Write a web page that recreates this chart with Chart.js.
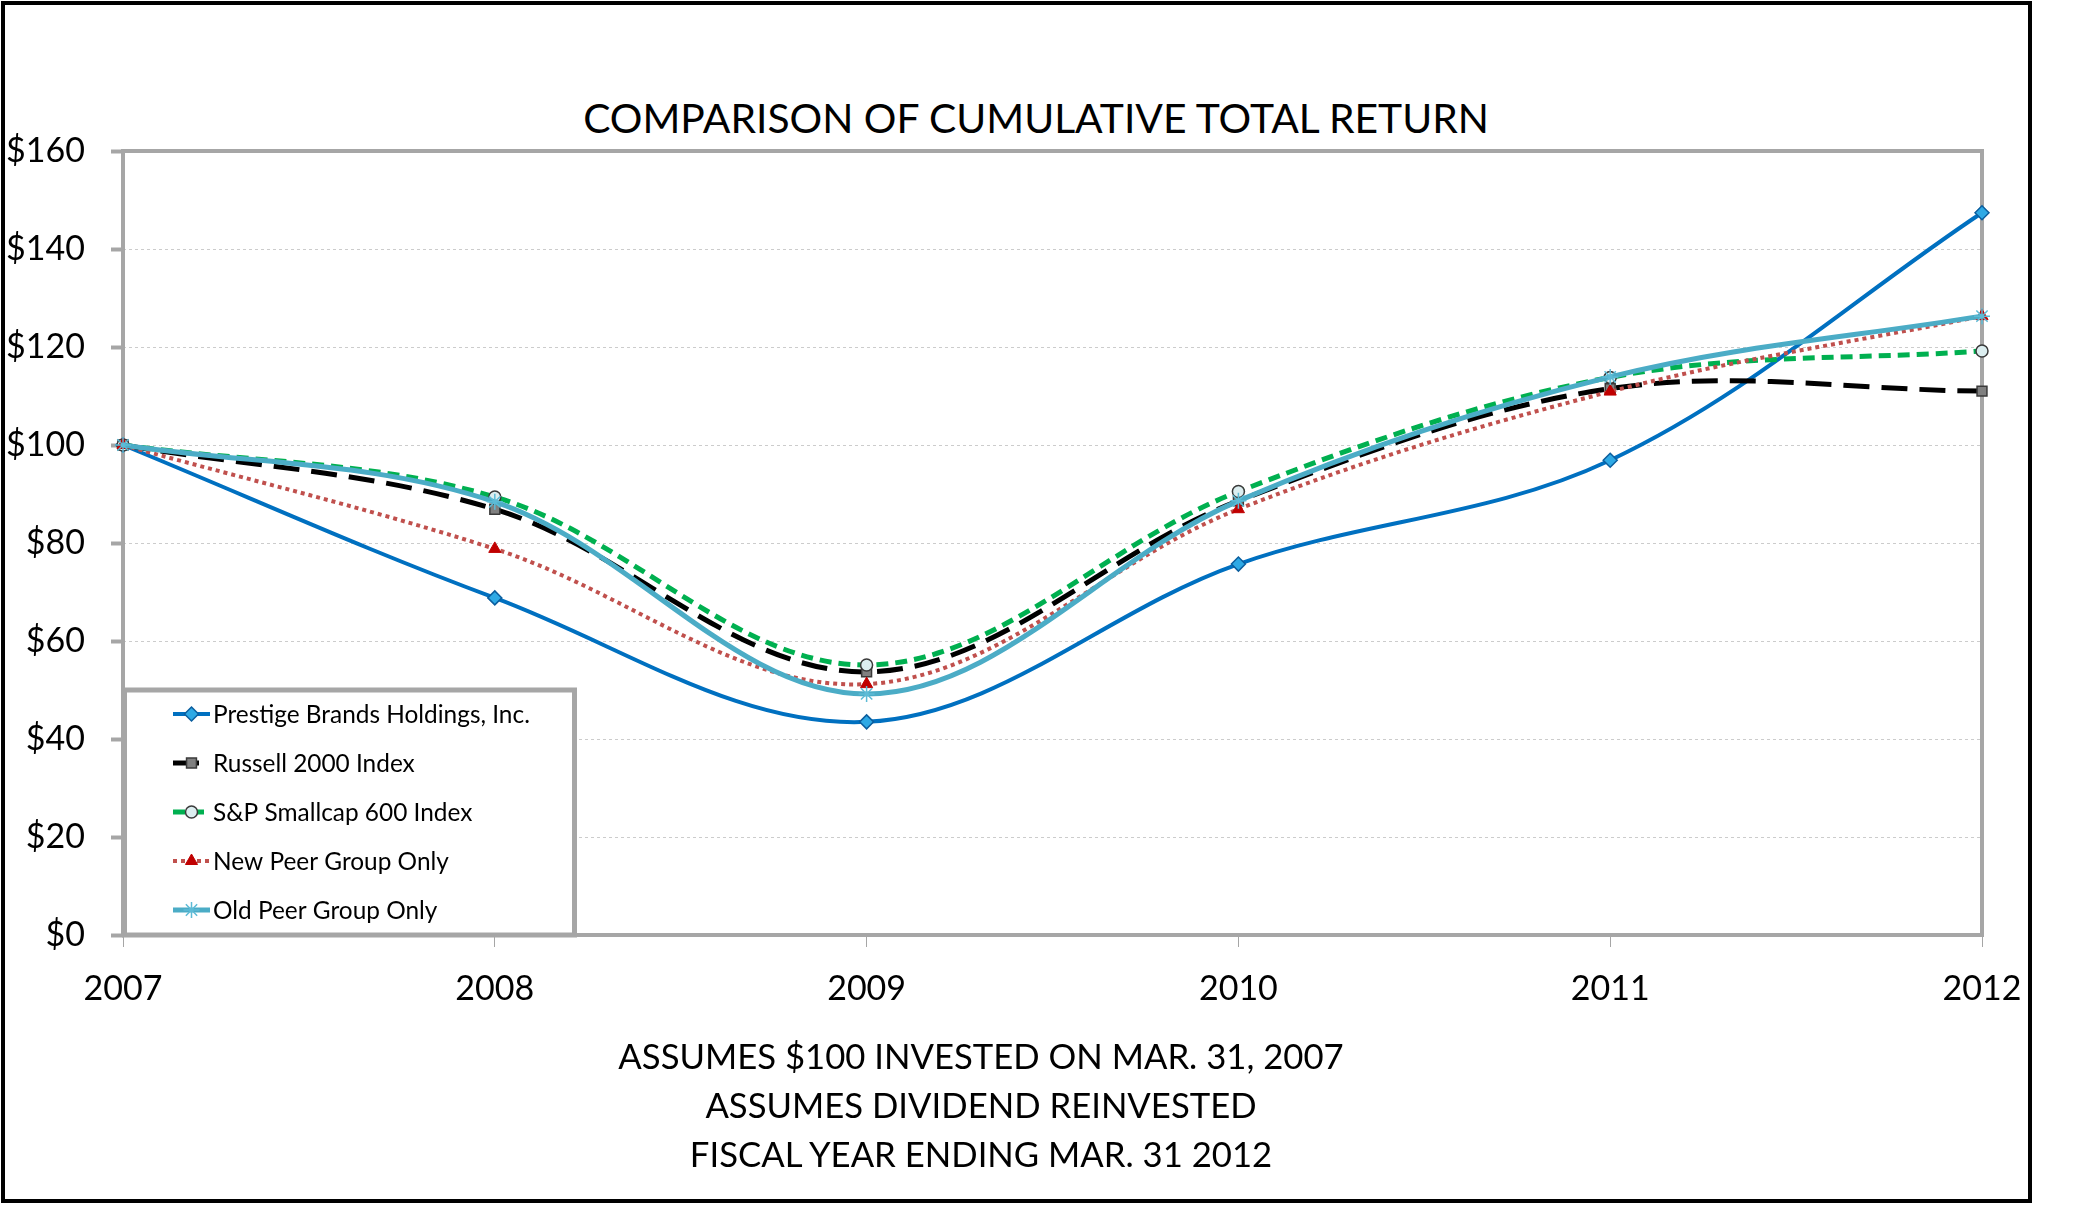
<!DOCTYPE html>
<html>
<head>
<meta charset="utf-8">
<title>Comparison of Cumulative Total Return</title>
<script src="https://cdn.jsdelivr.net/npm/chart.js@4.4.1/dist/chart.umd.min.js"></script>
<style>
    html, body { margin: 0; padding: 0; background: #fff; }
    #page { position: relative; width: 2100px; height: 1205px; overflow: hidden; font-family: Lato, 'Open Sans', sans-serif; color: #000; }
    #frame { position: absolute; left: 1px; top: 1px; width: 2031px; height: 1202px; box-sizing: border-box; border: 4px solid #000; }
    #wrap { position: absolute; left: 0; top: 0; width: 2100px; height: 1205px; }
    #title { position: absolute; left: 0; top: 93px; width: 2072px; text-align: center; font-size: 40.8px; line-height: 50px; }
    #notes { position: absolute; left: 0; top: 1031px; width: 1962px; text-align: center; font-size: 34.7px; line-height: 49px; }
</style>
</head>
<body>
<div id="page">
    <div id="frame"></div>
    <div id="title">COMPARISON OF CUMULATIVE TOTAL RETURN</div>
    <div id="wrap"><canvas id="return-chart"></canvas></div>
    <div id="notes">
        ASSUMES $100 INVESTED ON MAR. 31, 2007<br>
        ASSUMES DIVIDEND REINVESTED<br>
        FISCAL YEAR ENDING MAR. 31 2012
    </div>
</div>
<script>
// values
const years = ['2007', '2008', '2009', '2010', '2011', '2012'];
const seriesNames = [
    'Prestige Brands Holdings, Inc.',
    'Russell 2000 Index',
    'S&P Smallcap 600 Index',
    'New Peer Group Only',
    'Old Peer Group Only'
];
const prestige = [100, 68.8, 43.5, 75.7, 96.9, 147.4];
const russell  = [100, 86.9, 53.7, 88.6, 111.5, 111.0];
const smallcap = [100, 89.4, 55.1, 90.5, 113.8, 119.2];
const newPeer  = [100, 78.8, 51.2, 86.9, 110.9, 126.3];
const oldPeer  = [100, 88.4, 49.2, 88.6, 113.9, 126.3];
const yMin = 0, yMax = 160, yStep = 20;

const AXIS_GRAY = '#A6A6A6';

// grey frame round the plot area (Excel style)
const plotFrame = {
    id: 'plotFrame',
    beforeDatasetsDraw(chart) {
        const { ctx, chartArea: ca } = chart;
        ctx.save();
        ctx.lineWidth = 4;
        ctx.strokeStyle = AXIS_GRAY;
        ctx.strokeRect(ca.left, ca.top, ca.right - ca.left, ca.bottom - ca.top);
        ctx.restore();
    }
};

// legend box sitting inside the plot, bottom left
const boxLegend = {
    id: 'boxLegend',
    afterDatasetsDraw(chart) {
        const { ctx, chartArea: ca } = chart;
        const w = 450, h = 245;
        const left = ca.left + 1.5, top = ca.bottom - h;
        ctx.save();
        ctx.fillStyle = '#fff';
        ctx.fillRect(left, top, w, h);
        ctx.lineWidth = 5;
        ctx.strokeStyle = AXIS_GRAY;
        ctx.strokeRect(left, top, w, h);

        chart.data.datasets.forEach((ds, i) => {
            const y = top + 24 + i * 49;
            const x0 = ca.left + 50, x1 = ca.left + 87, xm = (x0 + x1) / 2;

            ctx.beginPath();
            ctx.setLineDash(ds.borderDash || []);
            ctx.lineWidth = ds.borderWidth;
            ctx.strokeStyle = ds.borderColor;
            ctx.moveTo(x0, y);
            ctx.lineTo(x1, y);
            ctx.stroke();
            ctx.setLineDash([]);

            ctx.fillStyle = ds.pointBackgroundColor;
            ctx.strokeStyle = ds.pointBorderColor;
            ctx.lineWidth = ds.pointBorderWidth;
            if (Chart.helpers && Chart.helpers.drawPoint) {
                Chart.helpers.drawPoint(ctx, {
                    pointStyle: ds.pointStyle,
                    radius: ds.pointRadius,
                    rotation: 0,
                    borderWidth: ds.pointBorderWidth
                }, xm, y);
            }

            ctx.fillStyle = '#000';
            ctx.font = '24.4px Lato';
            ctx.textAlign = 'left';
            ctx.textBaseline = 'middle';
            ctx.fillText(ds.label, ca.left + 90, y + 1);
        });
        ctx.restore();
    }
};

Chart.defaults.font.family = "Lato, 'Open Sans', sans-serif";
Chart.defaults.color = '#000';

const ctx = document.getElementById('return-chart');
new Chart(ctx, {
    type: 'line',
    data: {
        labels: years,
        datasets: [
            {
                label: seriesNames[0], data: prestige, order: 5,
                borderColor: '#0070C0', borderWidth: 4,
                pointStyle: 'rectRot', pointRadius: 7,
                pointBackgroundColor: '#2EA9E5', pointBorderColor: '#0B5E9E', pointBorderWidth: 1.5
            },
            {
                label: seriesNames[1], data: russell, order: 4,
                borderColor: '#000000', borderWidth: 5, borderDash: [26, 12],
                pointStyle: 'rect', pointRadius: 7,
                pointBackgroundColor: '#808080', pointBorderColor: '#3A3A3A', pointBorderWidth: 1.5
            },
            {
                label: seriesNames[2], data: smallcap, order: 3,
                borderColor: '#00B050', borderWidth: 5, borderDash: [12, 7],
                pointStyle: 'circle', pointRadius: 6,
                pointBackgroundColor: '#DCEEF0', pointBorderColor: '#3A3A3A', pointBorderWidth: 1.5
            },
            {
                label: seriesNames[3], data: newPeer, order: 2,
                borderColor: '#C0504D', borderWidth: 4, borderDash: [4, 4],
                pointStyle: 'triangle', pointRadius: 7,
                pointBackgroundColor: '#C00000', pointBorderColor: '#C00000', pointBorderWidth: 1
            },
            {
                label: seriesNames[4], data: oldPeer, order: 1,
                borderColor: '#4BACC6', borderWidth: 5,
                pointStyle: 'star', pointRadius: 8,
                pointBackgroundColor: '#4BACC6', pointBorderColor: '#5DBBD6', pointBorderWidth: 1.5
            }
        ]
    },
    options: {
        responsive: true,
        maintainAspectRatio: false,
        animation: false,
        events: [],
        layout: { padding: { left: 0, top: 151, right: 118, bottom: 0 } },
        elements: {
            line: { tension: 0.35, fill: false, capBezierPoints: true }
        },
        plugins: {
            legend: { display: false },
            tooltip: { enabled: false }
        },
        scales: {
            x: {
                offset: false,
                afterFit: (scale) => { scale.height = 270; },
                grid: {
                    drawOnChartArea: false,
                    drawTicks: true,
                    tickLength: 12,
                    tickWidth: 1,
                    tickColor: AXIS_GRAY
                },
                border: { display: false },
                ticks: { font: { size: 34 }, padding: 22, maxRotation: 0 }
            },
            y: {
                min: yMin,
                max: yMax,
                afterFit: (scale) => { scale.width = 123; },
                grid: {
                    color: '#CCCCCC',
                    lineWidth: 1,
                    tickLength: 12,
                    tickWidth: 4,
                    tickColor: AXIS_GRAY
                },
                border: { display: false, dash: [3, 3] },
                ticks: {
                    stepSize: yStep,
                    font: { size: 34 },
                    padding: 26,
                    callback: (v) => '$' + v
                }
            }
        }
    },
    plugins: [plotFrame, boxLegend]
});
</script>
</body>
</html>
